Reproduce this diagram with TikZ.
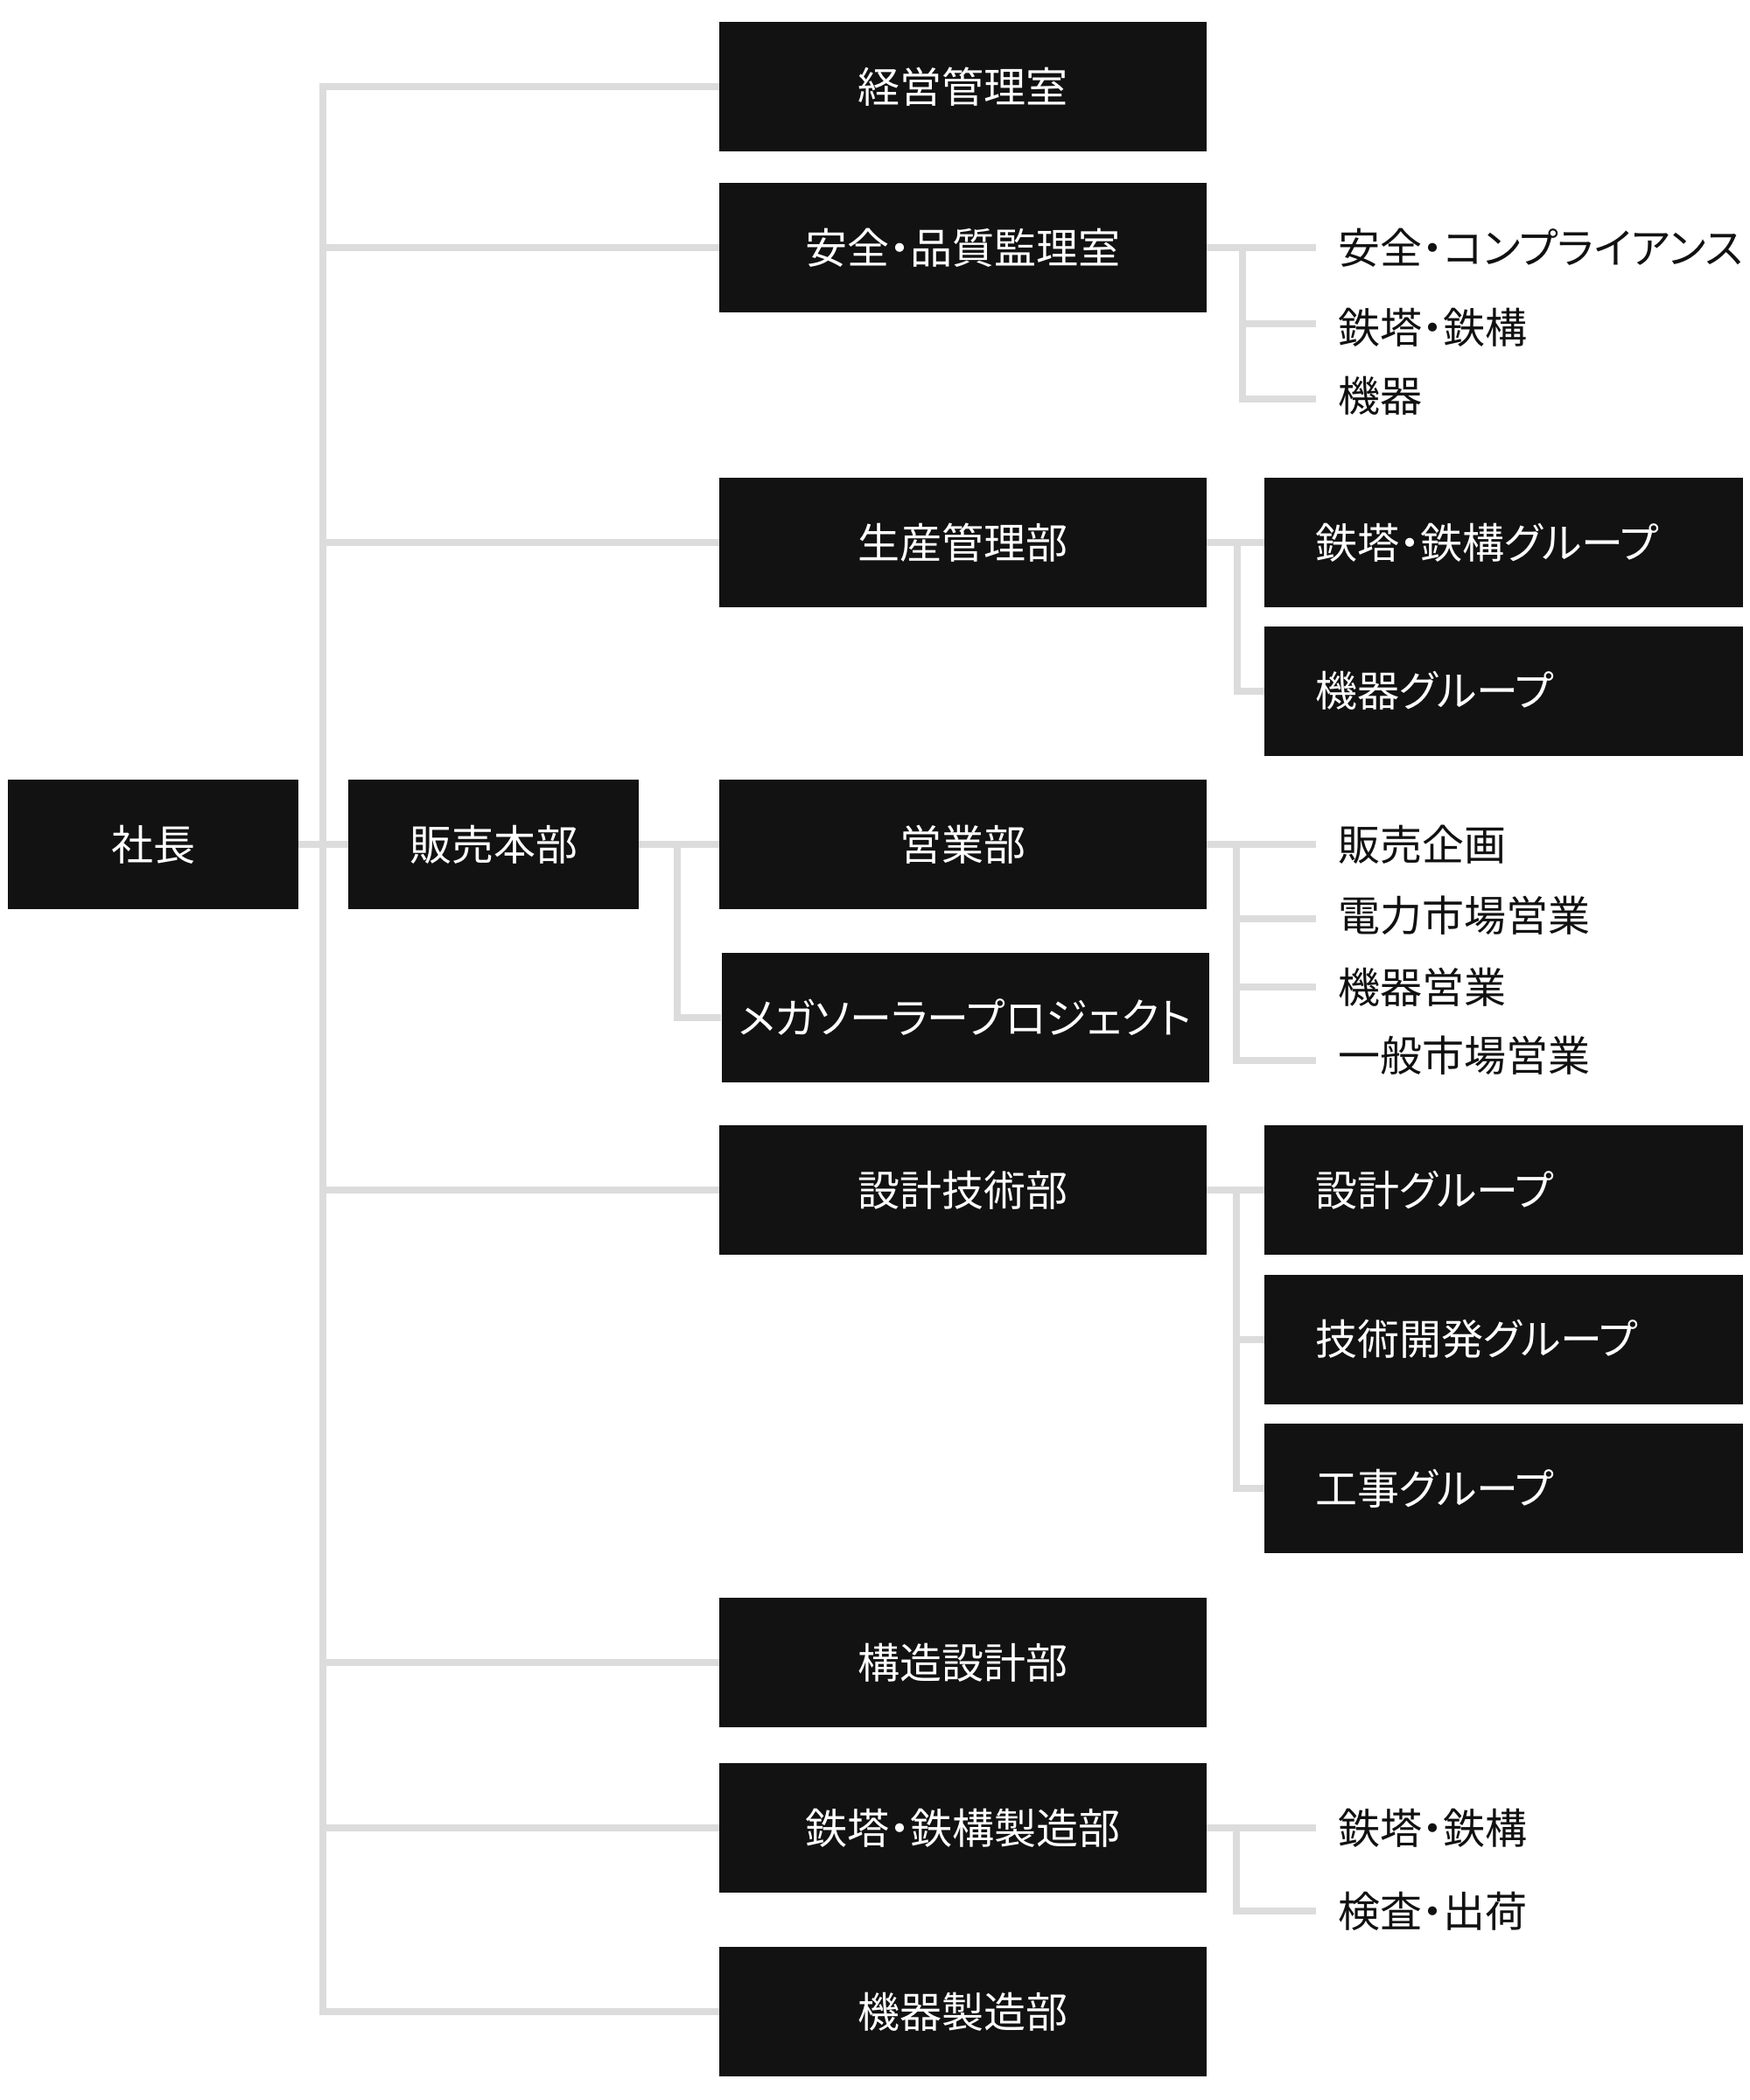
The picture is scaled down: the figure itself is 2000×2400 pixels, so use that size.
\documentclass[tikz,border=0pt]{standalone}
\usepackage{fontspec}
\setmainfont{Noto Sans CJK JP}[RawFeature=+palt]
\definecolor{boxbg}{HTML}{121212}
\definecolor{linec}{HTML}{DCDCDC}
\definecolor{txt}{HTML}{111111}
\begin{document}
\begin{tikzpicture}[x=0.5pt,y=-0.5pt,
  conn/.style={draw=linec,line width=4pt,line join=miter},
  base/.style={font=\fontsize{24pt}{28pt}\selectfont, text height=21.12pt, text depth=2.88pt, inner sep=0pt},
  box/.style={base,fill=boxbg,text=white,minimum height=74pt},
  mainbox/.style={box,minimum width=278.5pt},
  topbox/.style={box,minimum width=166pt},
  grpbox/.style={box,text width=215.5pt,align=left,inner xsep=29pt},
  item/.style={base,text=txt,anchor=west}]
\useasboundingbox (0,0) rectangle (2000,2400);
\fill[white] (0,0) rectangle (2000,2400);

% coordinates for vertical bars
\coordinate (trk) at (369,0);
\coordinate (vA) at (1420,0);
\coordinate (vB) at (1414,0);
\coordinate (vC) at (1413,0);
\coordinate (vH) at (774,0);

% top-level
\node[topbox] (pres) at (175,965) {社長};
\node[topbox] (hq) at (564,965) {販売本部};

% main column
\node[mainbox] (a1) at (1100.5,99) {経営管理室};
\node[mainbox] (a2) at (1100.5,283) {安全・品質監理室};
\node[mainbox] (a3) at (1100.5,620) {生産管理部};
\node[mainbox] (a4) at (1100.5,965) {営業部};
\node[mainbox] (a5) at (1103,1163) {メガソーラープロジェクト};
\node[mainbox] (a6) at (1100.5,1360) {設計技術部};
\node[mainbox] (a7) at (1100.5,1900) {構造設計部};
\node[mainbox] (a8) at (1100.5,2089) {鉄塔・鉄構製造部};
\node[mainbox] (a9) at (1100.5,2299) {機器製造部};

% group boxes
\node[grpbox] (g1) at (1718.5,620) {鉄塔・鉄構グループ};
\node[grpbox] (g2) at (1718.5,789.5) {機器グループ};
\node[grpbox] (g3) at (1718.5,1360) {設計グループ};
\node[grpbox] (g4) at (1718.5,1530.5) {技術開発グループ};
\node[grpbox] (g5) at (1718.5,1701) {工事グループ};

% text items
\node[item] (s1) at (1529,283) {安全・コンプライアンス};
\node[item] (s2) at (1529,374) {鉄塔・鉄構};
\node[item] (s3) at (1529,452) {機器};
\node[item] (e1) at (1529,965) {販売企画};
\node[item] (e2) at (1529,1046) {電力市場営業};
\node[item] (e3) at (1529,1128) {機器営業};
\node[item] (e4) at (1529,1206) {一般市場営業};
\node[item] (m1) at (1529,2089) {鉄塔・鉄構};
\node[item] (m2) at (1529,2184) {検査・出荷};

% trunk
\draw[conn] (a1.west) -| (trk |- a9.west) -- (a9.west);
\foreach \n in {a2,a3,a6,a7,a8}{
  \draw[conn] (\n.west) -- (\n.west -| trk);
}
\draw[conn] (pres.east) -- (hq.west);
\draw[conn] (hq.east) -- (a4.west);
\draw[conn] (hq.east -| vH) |- (a5.west);

% 安全・品質監理室
\draw[conn] (a2.east) -- ([xshift=-12.5pt]s1.west);
\draw[conn] (a2.east -| vA) |- ([xshift=-12.5pt,yshift=-2pt]s3.west);
\draw[conn] ([yshift=2pt]s2.west -| vA) -- ([xshift=-12.5pt,yshift=2pt]s2.west);

% 生産管理部
\draw[conn] (a3.east) -- (g1.west);
\draw[conn] (a3.east -| vB) |- (g2.west);

% 営業部
\draw[conn] (a4.east) -- ([xshift=-12.5pt]e1.west);
\draw[conn] (a4.east -| vC) |- ([xshift=-12.5pt,yshift=-3pt]e4.west);
\draw[conn] ([yshift=-2pt]e2.west -| vC) -- ([xshift=-12.5pt,yshift=-2pt]e2.west);
\draw[conn] (e3.west -| vC) -- ([xshift=-12.5pt]e3.west);

% 設計技術部
\draw[conn] (a6.east) -- (g3.west);
\draw[conn] (a6.east -| vC) |- (g5.west);
\draw[conn] (g4.west -| vC) -- (g4.west);

% 鉄塔・鉄構製造部
\draw[conn] (a8.east) -- ([xshift=-12.5pt]m1.west);
\draw[conn] (a8.east -| vC) |- ([xshift=-12.5pt]m2.west);
\end{tikzpicture}
\end{document}
